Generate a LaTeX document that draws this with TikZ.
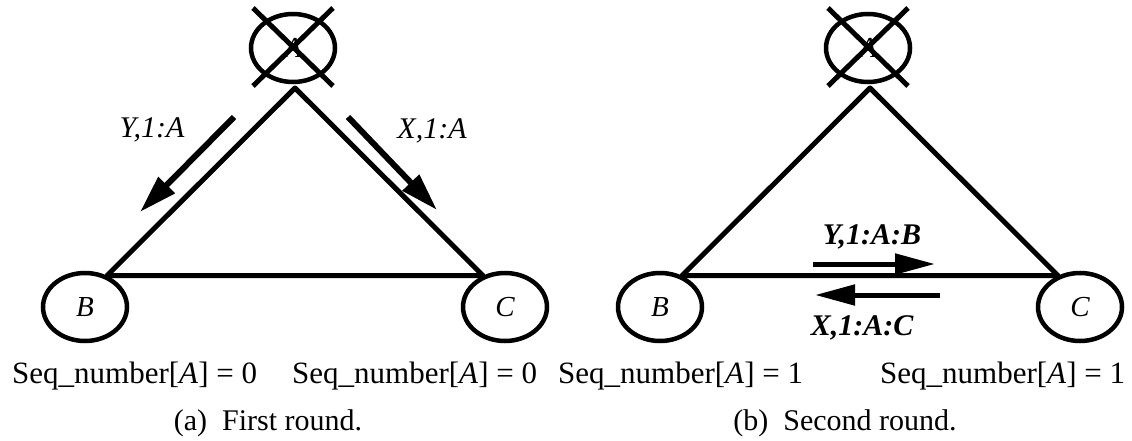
\documentclass[tikz,border=0pt]{standalone}
\usepackage{fontspec}
\setmainfont{Liberation Serif}
\usetikzlibrary{arrows.meta,shapes.geometric}

\begin{document}
\begin{tikzpicture}[x=1pt,y=-1pt,
    site/.style={draw,ellipse,line width=4.5pt,minimum width=84pt,minimum height=68pt,inner sep=0pt,font=\fontsize{29}{32}\selectfont\itshape},
    link/.style={line width=5pt,line join=round},
    cross/.style={line width=5pt},
    msg/.style={-{Triangle[length=38pt,width=22pt]},line width=6pt},
    tag/.style={font=\fontsize{30}{34}\selectfont\itshape,inner sep=0pt},
    seq/.style={font=\fontsize{31}{36}\selectfont,anchor=base west,inner sep=0pt},
    caption/.style={font=\fontsize{30}{34}\selectfont,anchor=base,inner sep=0pt}
  ]
    \useasboundingbox (0,0) rectangle (1132,441);
    % (a) first round
    \node[site] (Aa) at (293,48) {A};
    \node[site] (Ba) at (85,307) {B};
    \node[site] (Ca) at (505,307) {C};
    \coordinate (apexa) at (295,88);
    \draw[link] (Ba.55) -- (apexa) -- (Ca.125) -- cycle;
    \draw[cross] ([shift={(-40,-40)}]Aa.center) -- ([shift={(40,38)}]Aa.center);
    \draw[cross] ([shift={(40,-40)}]Aa.center) -- ([shift={(-40,38)}]Aa.center);
    \coordinate (ya1) at (234,117);
    \coordinate (ya2) at (140,212);
    \coordinate (xa1) at (348,117);
    \coordinate (xa2) at (437,210);
    \draw[msg] (ya1) -- (ya2);
    \draw[msg] (xa1) -- (xa2);
    \node[tag] (labYa) at (152,130) {Y,1:A};
    \node[tag] (labXa) at (432,131) {X,1:A};
    \node[seq] (seqBa) at (12,383) {Seq\_number[\textit{A}] = 0};
    \node[seq] (seqCa) at (292,383) {Seq\_number[\textit{A}] = 0};
    \node[caption] (capa) at (268,430) {(a)\ \ First round.};
    % (b) second round
    \node[site] (Ab) at (868,48) {A};
    \node[site] (Bb) at (660,307) {B};
    \node[site] (Cb) at (1080,307) {C};
    \coordinate (apexb) at (870,88);
    \draw[link] (Bb.55) -- (apexb) -- (Cb.125) -- cycle;
    \draw[cross] ([shift={(-40,-40)}]Ab.center) -- ([shift={(40,38)}]Ab.center);
    \draw[cross] ([shift={(40,-40)}]Ab.center) -- ([shift={(-40,38)}]Ab.center);
    \coordinate (yb1) at (813,264);
    \coordinate (yb2) at (935,264);
    \coordinate (xb1) at (940,295);
    \coordinate (xb2) at (815,295);
    \draw[msg,line width=5pt,-{Triangle[length=40pt,width=20pt]}] (yb1) -- (yb2);
    \draw[msg,line width=5pt,-{Triangle[length=40pt,width=20pt]}] (xb1) -- (xb2);
    \node[tag,font=\fontsize{30}{34}\selectfont\bfseries\itshape] (labYb) at (872,237) {Y,1:A:B};
    \node[tag,font=\fontsize{30}{34}\selectfont\bfseries\itshape] (labXb) at (862,328) {X,1:A:C};
    \node[seq] (seqBb) at (558,383) {Seq\_number[\textit{A}] = 1};
    \node[seq] (seqCb) at (880,383) {Seq\_number[\textit{A}] = 1};
    \node[caption] (capb) at (845,430) {(b)\ \ Second round.};
  \end{tikzpicture}
\end{document}
